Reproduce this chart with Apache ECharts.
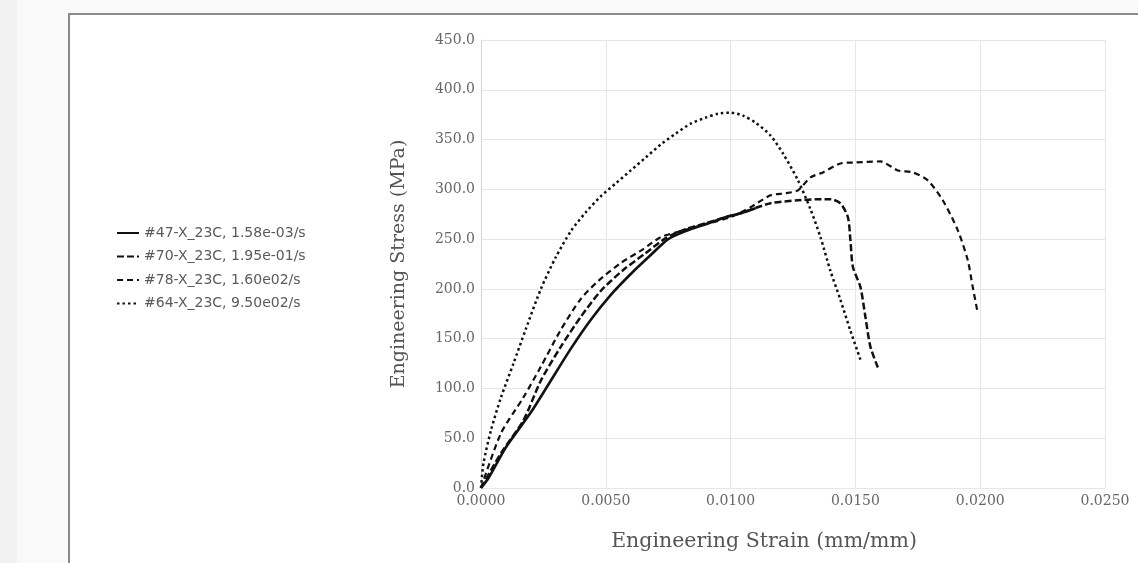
<!DOCTYPE html>
<html>
<head>
<meta charset="utf-8">
<script src="https://cdn.jsdelivr.net/npm/echarts@6/dist/echarts.min.js"></script>
<style>
  html, body { margin: 0; padding: 0; }
  body {
    width: 1138px; height: 563px;
    background: linear-gradient(90deg, #f2f2f2 0px, #f2f2f2 17px, #f9f9f9 17px, #f9f9f9 100%);
  }
  #chart { width: 1138px; height: 563px; }
</style>
</head>
<body>
<div id="chart"></div>
<script>
// series names (legend)
const names = [
  '#47-X_23C, 1.58e-03/s',
  '#70-X_23C, 1.95e-01/s',
  '#78-X_23C, 1.60e02/s',
  '#64-X_23C, 9.50e02/s'
]

// #47 - solid
const strain47 = [0, 0.0003, 0.0010, 0.0020, 0.0028, 0.0036, 0.0044, 0.0052, 0.0060, 0.0068, 0.0075, 0.0082, 0.0090, 0.0098, 0.0104, 0.0110]
const stress47 = [0, 10, 41, 76, 108, 140, 169, 194, 215, 234, 250, 258, 265, 272, 276, 281]

// #70 - bold dashes
const strain70 = [0, 0.0008, 0.0017, 0.0024, 0.0032, 0.0040, 0.0048, 0.0057, 0.0066, 0.0074, 0.0082, 0.0090, 0.0098, 0.0104, 0.0116, 0.0127, 0.0134, 0.0140, 0.0144, 0.0147, 0.0148, 0.0149, 0.0152, 0.0154, 0.0156, 0.0159]
const stress70 = [0, 35, 68, 108, 142, 172, 198, 219, 236, 251, 260, 266, 272, 276, 286, 289, 290, 290, 286, 272, 249, 222, 202, 172, 142, 121]

// #78 - dashes
const strain78 = [0, 0.0008, 0.0017, 0.0024, 0.0032, 0.0040, 0.0047, 0.0056, 0.0065, 0.0072, 0.0080, 0.0090, 0.0100, 0.0108, 0.0116, 0.0122, 0.0127, 0.0132, 0.0137, 0.0144, 0.0150, 0.0160, 0.0167, 0.0173, 0.0179, 0.0185, 0.0191, 0.0195, 0.0197, 0.0199]
const stress78 = [0, 55, 91, 122, 159, 190, 208, 226, 240, 252, 258, 265, 272, 282, 294, 296, 299, 312, 317, 326, 327, 328, 319, 317, 309, 289, 259, 229, 202, 176]

// #64 - dotted
const strain64 = [0, 0.0001, 0.0004, 0.0008, 0.0013, 0.0018, 0.0024, 0.0030, 0.0036, 0.0042, 0.0048, 0.0054, 0.0060, 0.0066, 0.0072, 0.0078, 0.0084, 0.0090, 0.0095, 0.0100, 0.0105, 0.0110, 0.0116, 0.0121, 0.0127, 0.0132, 0.0136, 0.0140, 0.0144, 0.0148, 0.0152]
const stress64 = [0, 25, 58, 91, 125, 160, 200, 232, 258, 277, 293, 306, 319, 332, 345, 356, 366, 372, 376, 377, 374, 367, 354, 336, 309, 280, 252, 218, 189, 158, 129]

// axis ticks
const strainTicks = [0, 0.005, 0.010, 0.015, 0.020, 0.025]
const stressTicks = [0, 50, 100, 150, 200, 250, 300, 350, 400, 450]

function pairs(xs, ys) {
  return xs.map((x, i) => [x, ys[i]])
}

const chart = echarts.init(document.getElementById('chart'))

const lineBase = { color: '#111', cap: 'butt', join: 'round' }

function makeSeries(i, xs, ys, width, type) {
  return {
    name: names[i], type: 'line', showSymbol: false, symbol: 'none',
    smooth: 0.25,
    color: '#111',
    data: pairs(xs, ys),
    lineStyle: { ...lineBase, width: width, type: type }
  }
}

const option = {
  animation: false,
  graphic: [{
    type: 'rect',
    z: -10,
    silent: true,
    shape: { x: 69, y: 14, width: 1200, height: 700 },
    style: { fill: '#ffffff', stroke: '#8a8a8a', lineWidth: 2 }
  }],
  grid: { left: 481, right: 33, top: 40, bottom: 75 },
  legend: {
    orient: 'vertical',
    left: 116,
    top: 226,
    padding: 0,
    itemWidth: 22,
    itemHeight: 14,
    itemGap: 9.5,
    data: names,
    itemStyle: { opacity: 0 },
    textStyle: { color: '#5a5a5a', fontSize: 14, fontFamily: 'DejaVu Sans' }
  },
  xAxis: {
    type: 'value',
    min: strainTicks[0],
    max: strainTicks[strainTicks.length - 1],
    interval: 0.005,
    name: 'Engineering Strain (mm/mm)',
    nameLocation: 'middle',
    nameGap: 43,
    nameTextStyle: { color: '#555', fontSize: 20.5, fontFamily: 'DejaVu Serif', padding: [0, 58, 0, 0] },
    axisLine: { show: false },
    axisTick: { show: false },
    axisLabel: {
      color: '#666', fontSize: 14, fontFamily: 'DejaVu Serif', margin: 6,
      formatter: v => v.toFixed(4)
    },
    splitLine: { lineStyle: { color: '#e6e6e6', width: 1 } }
  },
  yAxis: {
    type: 'value',
    min: stressTicks[0],
    max: stressTicks[stressTicks.length - 1],
    interval: 50,
    name: 'Engineering Stress (MPa)',
    nameLocation: 'middle',
    nameGap: 72,
    nameTextStyle: { color: '#555', fontSize: 19, fontFamily: 'DejaVu Serif' },
    axisLine: { show: true, lineStyle: { color: '#d4d4d4', width: 1 } },
    axisTick: { show: false },
    axisLabel: {
      color: '#666', fontSize: 14, fontFamily: 'DejaVu Serif', margin: 6,
      formatter: v => v.toFixed(1)
    },
    splitLine: { lineStyle: { color: '#e6e6e6', width: 1 } }
  },
  series: [
    makeSeries(0, strain47, stress47, 2.6, 'solid'),
    makeSeries(1, strain70, stress70, 2.5, [7, 3]),
    makeSeries(2, strain78, stress78, 2.2, [6, 4]),
    makeSeries(3, strain64, stress64, 2.5, [2.5, 3])
  ]
}

chart.setOption(option)
</script>
</body>
</html>
